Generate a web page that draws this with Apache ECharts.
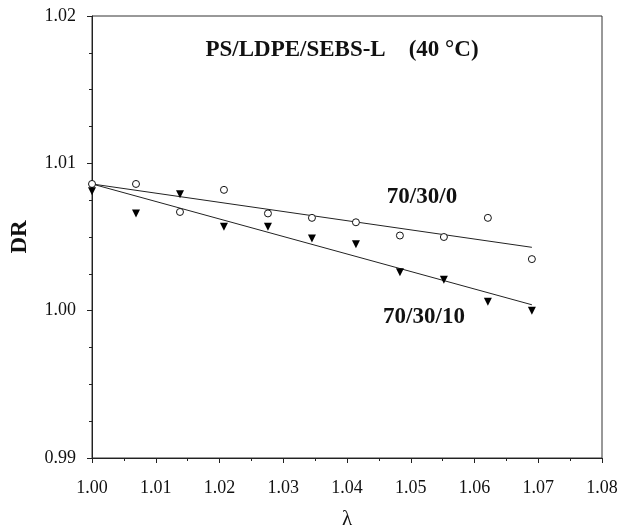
<!DOCTYPE html>
<html>
<head>
<meta charset="utf-8">
<script src="https://cdn.jsdelivr.net/npm/echarts@6/dist/echarts.min.js"></script>
<style>
  html, body { margin: 0; padding: 0; background: #fff; }
  #chart { width: 620px; height: 530px; }
</style>
</head>
<body>
<div id="chart"></div>
<script>
// draw ratio vs draw ratio lambda
const lambda = [1.000, 1.0069, 1.0138, 1.0207, 1.0276, 1.0345, 1.0414, 1.0483, 1.0552, 1.0621, 1.069]
const dr70300 = [1.0086, 1.0086, 1.0067, 1.0082, 1.0066, 1.0063, 1.0060, 1.0051, 1.0050, 1.0063, 1.0035]
const dr703010 = [1.0081, 1.0066, 1.0079, 1.0057, 1.0057, 1.0049, 1.0045, 1.0026, 1.0021, 1.0006, 1.0000]

// linear fits
const fitX = [1.000, 1.069]
const fit70300 = [1.0086, 1.0043]
const fit703010 = [1.0086, 1.0004]

const pairs = (xs, ys) => xs.map((x, i) => [x, ys[i]])

const serif = '"Liberation Serif", "Times New Roman", serif'

const chart = echarts.init(document.getElementById('chart'))
chart.setOption({
    animation: false,
    grid: {
        left: 92,
        right: 18,
        top: 16,
        bottom: 72,
        outerBoundsMode: 'none',
        show: true,
        borderColor: '#333',
        borderWidth: 1
    },
    xAxis: {
        type: 'value',
        min: 1.00,
        max: 1.08,
        interval: 0.01,
        name: 'λ',
        nameLocation: 'middle',
        nameGap: 51,
        nameTextStyle: { fontFamily: serif, fontSize: 21, color: '#111' },
        axisLine: { lineStyle: { color: '#222', width: 1 } },
        axisTick: { length: 5, lineStyle: { color: '#222' } },
        minorTick: { show: true, splitNumber: 2, length: 3, lineStyle: { color: '#222' } },
        splitLine: { show: false },
        axisLabel: {
            fontFamily: serif, fontSize: 18, color: '#111', margin: 21,
            formatter: v => v.toFixed(2)
        }
    },
    yAxis: {
        type: 'value',
        min: 0.99,
        max: 1.02,
        interval: 0.01,
        name: 'DR',
        nameLocation: 'middle',
        nameGap: 60,
        nameTextStyle: { fontFamily: serif, fontSize: 23, fontWeight: 'bold', color: '#111' },
        axisLine: { show: true, lineStyle: { color: '#222', width: 1 } },
        axisTick: { show: true, length: 5, lineStyle: { color: '#222' } },
        minorTick: { show: true, splitNumber: 4, length: 3, lineStyle: { color: '#222' } },
        splitLine: { show: false },
        axisLabel: {
            fontFamily: serif, fontSize: 18, color: '#111', margin: 16,
            formatter: v => v.toFixed(2)
        }
    },
    graphic: [
        {
            type: 'text', x: 342, y: 50,
            style: {
                text: 'PS/LDPE/SEBS-L    (40 °C)',
                font: 'bold 23px ' + serif,
                fill: '#111', textAlign: 'center', textVerticalAlign: 'middle'
            }
        },
        {
            type: 'text', x: 422, y: 197,
            style: {
                text: '70/30/0', font: 'bold 23px ' + serif,
                fill: '#111', textAlign: 'center', textVerticalAlign: 'middle'
            }
        },
        {
            type: 'text', x: 424, y: 317,
            style: {
                text: '70/30/10', font: 'bold 23px ' + serif,
                fill: '#111', textAlign: 'center', textVerticalAlign: 'middle'
            }
        }
    ],
    series: [
        {
            name: 'fit 70/30/0',
            type: 'line',
            data: pairs(fitX, fit70300),
            showSymbol: false,
            lineStyle: { color: '#222', width: 1 }
        },
        {
            name: 'fit 70/30/10',
            type: 'line',
            data: pairs(fitX, fit703010),
            showSymbol: false,
            lineStyle: { color: '#222', width: 1 }
        },
        {
            name: '70/30/0',
            type: 'scatter',
            data: pairs(lambda, dr70300),
            symbol: 'circle',
            symbolSize: 7,
            itemStyle: { color: '#fff', borderColor: '#111', borderWidth: 1, opacity: 1 },
            z: 3
        },
        {
            name: '70/30/10',
            type: 'scatter',
            data: pairs(lambda, dr703010),
            symbol: 'triangle',
            symbolRotate: 180,
            symbolSize: 8,
            itemStyle: { color: '#000', opacity: 1 },
            z: 4
        }
    ]
})
</script>
</body>
</html>
